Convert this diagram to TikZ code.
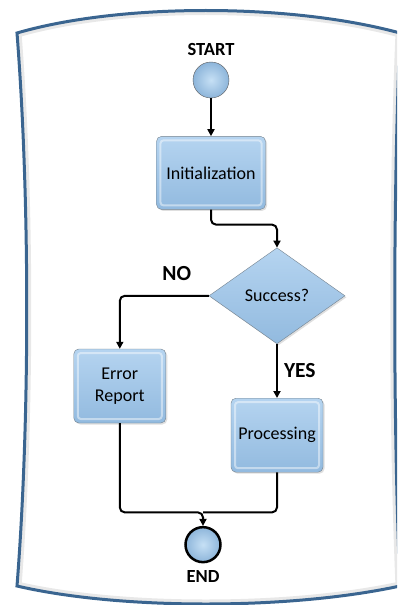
\documentclass[tikz,border=0pt]{standalone}
\usepackage{fontspec}
\setmainfont{Carlito}
\usetikzlibrary{shapes.geometric, arrows.meta, positioning, shadows, calc}

\definecolor{framecol}{HTML}{3A6590}
\definecolor{boxtop}{HTML}{B5D4F0}
\definecolor{boxbot}{HTML}{92BADF}
\definecolor{boxedge}{HTML}{75838F}
\definecolor{ballin}{HTML}{C6E0F5}
\definecolor{ballout}{HTML}{8DB5DA}

\begin{document}
\begin{tikzpicture}[
    x=1pt, y=1pt,
    node distance=38pt,
    every node/.style={font=\fontsize{18}{20}\selectfont},
    process/.style={rectangle, draw=boxedge, top color=boxtop, bottom color=boxbot,
        rounded corners=5pt, minimum width=92pt, minimum height=74pt, align=center,
        drop shadow={opacity=0.25, shadow xshift=1.5pt, shadow yshift=-1.5pt},
        path picture={\draw[white, opacity=0.45, line width=2pt, rounded corners=3pt]
            ([shift={(4pt,4pt)}]path picture bounding box.south west) rectangle
            ([shift={(-4pt,-4pt)}]path picture bounding box.north east);}},
    decision/.style={diamond, draw=boxedge, top color=boxtop, bottom color=boxbot,
        minimum width=136pt, minimum height=96pt, inner sep=0pt, aspect=1.4,
        drop shadow={opacity=0.25, shadow xshift=1.5pt, shadow yshift=-1.5pt}},
    terminal/.style={circle, draw=gray!70!black, inner color=ballin, outer color=ballout,
        minimum size=36pt, inner sep=0pt},
    tag/.style={inner sep=0pt, font=\fontsize{18.5}{20}\selectfont\bfseries},
    bigtag/.style={inner sep=0pt, font=\fontsize{21.5}{24}\selectfont\bfseries},
    line/.style={line width=2pt, black, rounded corners=5pt},
    arrow/.style={line, -{Triangle[length=7pt, width=7pt]}}
]

% Page size and frame
\useasboundingbox (-211,80) rectangle (186,-525);
\clip (-211,80) rectangle (186,-525);
\path[fill=white] (-194,47) .. controls (-91,77) and (79,77) .. (189,47)
    .. controls (182,-120) and (182,-340) .. (189,-506)
    .. controls (79,-530) and (-91,-530) .. (-194,-506)
    .. controls (-181,-340) and (-181,-120) .. cycle;
\begin{scope}
\clip (-194,47) .. controls (-91,77) and (79,77) .. (189,47)
    .. controls (182,-120) and (182,-340) .. (189,-506)
    .. controls (79,-530) and (-91,-530) .. (-194,-506)
    .. controls (-181,-340) and (-181,-120) .. cycle;
\draw[black!9, line width=9pt] (-194,47) .. controls (-91,77) and (79,77) .. (189,47)
    .. controls (182,-120) and (182,-340) .. (189,-506)
    .. controls (79,-530) and (-91,-530) .. (-194,-506)
    .. controls (-181,-340) and (-181,-120) .. cycle;
\end{scope}
\draw[framecol, line width=3pt, line join=miter] (-194,47) .. controls (-91,77) and (79,77) .. (189,47)
    .. controls (182,-120) and (182,-340) .. (189,-506)
    .. controls (79,-530) and (-91,-530) .. (-194,-506)
    .. controls (-181,-340) and (-181,-120) .. cycle;

% Start
\node[terminal] (start) at (0,0) {};
\node[tag, above=6pt of start] (startlbl) {START};

% Steps
\node[process, minimum width=109pt, minimum height=73pt, below=of start] (init) {Initialization};
\node[decision, below=38pt of init, xshift=66pt] (success) {Success?};
\node[process, below=53pt of success.west, xshift=-89pt] (error) {Error\\[2pt]Report};
\node[process, below=54pt of success] (proc) {Processing};

% End
\node[terminal, draw=black, line width=2.5pt, minimum size=35pt, below=53.5pt of proc.south, xshift=-74pt] (stop) {};
\node[tag, below=7pt of stop] (endlbl) {END};
\coordinate[above=13.5pt of stop.north] (merge);

% Arrows
\draw[arrow] (start) -- (init);
\draw[arrow] (init.south) -- ++(0,-15) -| (success.north);
\draw[arrow] (success.west) -| node[bigtag, pos=0.18, above=14pt] {NO} (error.north);
\draw[arrow] (success.south) -- node[bigtag, right=6pt] {YES} (proc.north);
\draw[line] (proc.south) |- (merge);
\draw[arrow] (error.south) |- (merge) -- (stop.north);

\end{tikzpicture}
\end{document}
